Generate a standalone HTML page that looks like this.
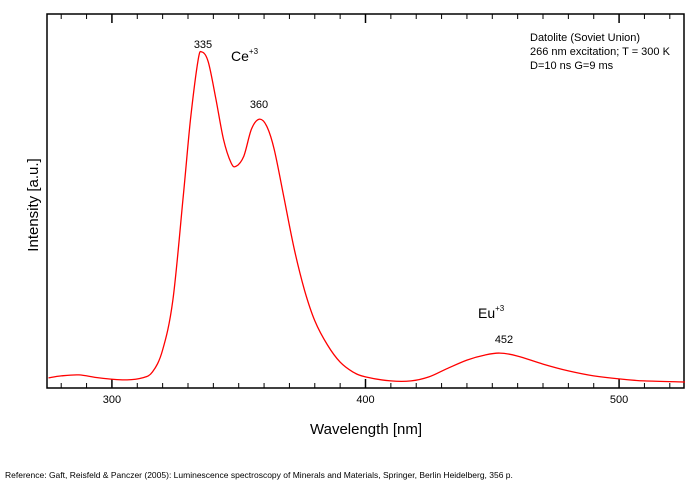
<!DOCTYPE html>
<html><head><meta charset="utf-8"><style>
body{margin:0;background:#fff;font-family:"Liberation Sans",Arial,sans-serif}
svg text{font-family:"Liberation Sans",Arial,sans-serif;fill:#000}
</style></head><body>
<svg id="chart" width="700" height="484">
<g id="axes"></g>
<path id="curve" fill="none" stroke="#f00" stroke-width="1.3"></path>
<text x="203" y="48" font-size="11" text-anchor="middle">335</text>
<text x="231" y="61" font-size="14">Ce<tspan font-size="8" dy="-7">+3</tspan></text>
<text x="259" y="108" font-size="11" text-anchor="middle">360</text>
<text x="478" y="318" font-size="14">Eu<tspan font-size="8" dy="-7">+3</tspan></text>
<text x="504" y="343" font-size="11" text-anchor="middle">452</text>
<g font-size="11">
<text x="530" y="41">Datolite (Soviet Union)</text>
<text x="530" y="55">266 nm excitation; T = 300 K</text>
<text x="530" y="69">D=10 ns G=9 ms</text>
</g>
<text transform="translate(38,205) rotate(-90)" font-size="15" text-anchor="middle">Intensity [a.u.]</text>
<text x="366" y="434" font-size="15" text-anchor="middle">Wavelength [nm]</text>
<text x="5" y="478" font-size="8.5">Reference: Gaft, Reisfeld &amp; Panczer (2005): Luminescence spectroscopy of Minerals and Materials, Springer, Berlin Heidelberg, 356 p.</text>
</svg>
<script>
const wavelengths=[275,280,287,295,305,312,316,320,324,328,331,334,335.5,338,341,344,347,349,352,355,358,361,364,368,372,376,380,385,390,395,400,410,418,425,432,440,447,453,460,470,480,490,500,510,526];
const intensity=[3.0,3.6,3.9,3.0,2.4,3.0,4.8,11.3,26,56,80,97.6,100,97,86,74,67,66,69,77,80,78,71,56,41,29,20,12.8,7.7,4.8,3.3,2.1,2.1,3.3,5.7,8.3,9.8,10.4,9.5,7.1,5.1,3.6,2.7,2.1,1.8];
const xTicks=[300,400,500];
const xMin=274.4,xMax=525.6,L=47,R=684,T=14,B=388;
const X=v=>L+(v-xMin)/(xMax-xMin)*(R-L);
const Y=v=>B-v*3.36;
const ns="http://www.w3.org/2000/svg";
const ax=document.getElementById('axes');
const fr=document.createElementNS(ns,'rect');
fr.setAttribute('x',L);fr.setAttribute('y',T);fr.setAttribute('width',R-L);fr.setAttribute('height',B-T);
fr.setAttribute('fill','none');fr.setAttribute('stroke','#000');fr.setAttribute('stroke-width','1.5');


ax.appendChild(fr);
for(let v=280;v<=520;v+=10){
 const major=v%100===0,len=major?9:5;
 for(const [y0,dir] of [[B,-1],[T,1]]){
  const t=document.createElementNS(ns,'line');
  t.setAttribute('x1',X(v));t.setAttribute('x2',X(v));t.setAttribute('y1',y0);t.setAttribute('y2',y0+dir*len);
  t.setAttribute('stroke','#000');t.setAttribute('stroke-width',major?1.5:1);
  
  
  ax.appendChild(t);
 }
}
xTicks.forEach(v=>{
 const t=document.createElementNS(ns,'text');
 t.setAttribute('x',X(v));t.setAttribute('y',B+15);t.setAttribute('font-size','11');t.setAttribute('text-anchor','middle');
 t.textContent=v;
 
 
 ax.appendChild(t);
});
const pts=wavelengths.map((w,i)=>[X(w),Y(intensity[i])]);
let d='M'+pts[0][0].toFixed(1)+' '+pts[0][1].toFixed(1);
for(let i=0;i<pts.length-1;i++){
 const p0=pts[Math.max(0,i-1)],p1=pts[i],p2=pts[i+1],p3=pts[Math.min(pts.length-1,i+2)];
 const c1=[p1[0]+(p2[0]-p0[0])/6,p1[1]+(p2[1]-p0[1])/6];
 const c2=[p2[0]-(p3[0]-p1[0])/6,p2[1]-(p3[1]-p1[1])/6];
 d+='C'+c1.map(n=>n.toFixed(1)).join(' ')+' '+c2.map(n=>n.toFixed(1)).join(' ')+' '+p2.map(n=>n.toFixed(1)).join(' ');
}
document.getElementById('curve').setAttribute('d',d);
</script>
</body></html>
